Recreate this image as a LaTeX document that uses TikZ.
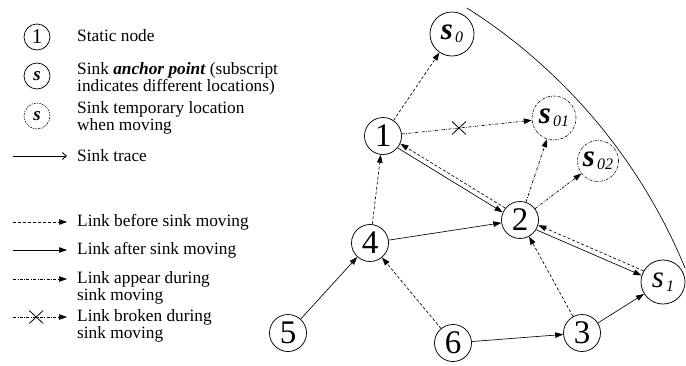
\documentclass[tikz,border=0pt]{standalone}
\usepackage{fontspec}
\setmainfont{Liberation Serif}
\usetikzlibrary{arrows.meta,shapes.misc,calc}
\newcommand\sinkl[3]{{\fontsize{31}{31}\selectfont\itshape #1#2}\hspace{2pt}\raisebox{-3.5pt}{\fontsize{16}{16}\selectfont\itshape #3}}
\begin{document}
\begin{tikzpicture}[x=1pt,y=-1pt,
  snode/.style={circle, draw, line width=0.75pt, minimum size=37pt, inner sep=0pt, font=\fontsize{33}{33}\selectfont},
  sinkc/.style={circle, draw, line width=0.75pt, minimum size=44pt, inner sep=0pt},
  tempsink/.style={sinkc, line width=0.6pt, dash pattern=on 2.5pt off 1.2pt on 0.6pt off 1.2pt},
  arrtip/.style={line width=0.65pt, -{Triangle[length=8pt,width=5.5pt]}},
  lkbefore/.style={arrtip, dash pattern=on 3pt off 2pt},
  lkafter/.style={arrtip},
  lkappear/.style={arrtip, dash pattern=on 3pt off 1.5pt on 0.7pt off 1.5pt},
  lbl/.style={anchor=base west, inner sep=0pt, font=\fontsize{17.3}{17.5}\selectfont},
  xmark/.style={cross out, draw, solid, minimum width=13pt, minimum height=12pt, inner sep=0pt, line width=0.8pt}
]
\useasboundingbox (0,0) rectangle (686,365);

% main diagram nodes
\node[snode] (n1) at (383,136) {1};
\node[snode] (n2) at (520,220) {2};
\node[snode] (n3) at (582,333) {3};
\node[snode] (n4) at (370,243) {4};
\node[snode] (n5) at (288,333) {5};
\node[snode] (n6) at (453,343) {6};
\node[sinkc] (s0) at (452,34) {\sinkl{\bfseries}{s}{0}};
\node[tempsink] (s01) at (554,118) {\sinkl{\bfseries}{s}{01}};
\node[tempsink, minimum size=41pt] (s02) at (598,161) {\sinkl{\bfseries}{s}{02}};
\node[sinkc] (s1) at (663,282) {\sinkl{}{s}{1}};

% sink trace arc
\draw[line width=0.65pt] (466.8,7.9) arc[start angle=-57.6, end angle=-22.4, radius=561.5];

% connectors
\draw[lkbefore] (n1) -- (s0);
\draw[lkappear] (n1) -- node[xmark, pos=0.44] (x1) {} (s01);
\draw[lkappear] (n2) -- (s01);
\draw[lkappear] (n2) -- (s02);
\draw[lkafter, transform canvas={xshift=-1.3pt,yshift=-2.1pt}] (n1) -- (n2);
\draw[lkbefore, transform canvas={xshift=1.3pt,yshift=2.1pt}] (n2) -- (n1);
\draw[lkbefore] (n4) -- (n1);
\draw[lkafter] (n4) -- (n2);
\draw[lkafter] (n5) -- (n4);
\draw[lkbefore] (n6) -- (n4);
\draw[lkafter] (n6) -- (n3);
\draw[lkbefore] (n3) -- (n2);
\draw[lkafter] (n3) -- (s1);
\draw[lkafter, transform canvas={xshift=-1pt,yshift=-2.3pt}] (n2) -- (s1);
\draw[lkbefore, transform canvas={xshift=1pt,yshift=2.3pt}] (s1) -- (n2);

% legend symbols
\node[snode, minimum size=26pt, font=\fontsize{21}{21}\selectfont] (L1) at (37,37) {1};
\node[sinkc, minimum size=26pt] (L2) at (37,76) {\fontsize{19}{19}\selectfont\bfseries\itshape s};
\node[sinkc, line width=0.6pt, minimum size=26pt, dash pattern=on 1.5pt off 1.2pt] (L3) at (37,116) {\fontsize{19}{19}\selectfont\bfseries\itshape s};

\coordinate (a1) at (13,156); \coordinate (b1) at (67,156);
\coordinate (a2) at (13,222); \coordinate (b2) at (67,222);
\coordinate (a3) at (13,250); \coordinate (b3) at (67,250);
\coordinate (a4) at (13,279); \coordinate (b4) at (67,279);
\coordinate (a5) at (13,317); \coordinate (b5) at (67,317);
\draw[line width=0.65pt, -{Straight Barb[length=4pt,width=7pt,line width=0.9pt]}] (a1) -- (b1);
\draw[lkbefore] (a2) -- (b2);
\draw[lkafter] (a3) -- (b3);
\draw[lkappear] (a4) -- (b4);
\draw[lkappear] (a5) -- node[xmark, pos=0.43] (x2) {} (b5);

% legend texts
\node[lbl] (t1) at (77,41) {Static node};
\node[lbl] (t2) at (77,74) {\begin{tabular}[t]{@{}l@{}}Sink \textbf{\textit{anchor point}} (subscript\\ indicates different locations)\end{tabular}};
\node[lbl] (t3) at (77,113) {\begin{tabular}[t]{@{}l@{}}Sink temporary location\\ when moving\end{tabular}};
\node[lbl] (t4) at (77,161) {Sink trace};
\node[lbl] (t5) at (77,226) {Link before sink moving};
\node[lbl] (t6) at (77,254) {Link after sink moving};
\node[lbl] (t7) at (77,283) {\begin{tabular}[t]{@{}l@{}}Link appear during\\ sink moving\end{tabular}};
\node[lbl] (t8) at (77,321) {\begin{tabular}[t]{@{}l@{}}Link broken during\\ sink moving\end{tabular}};
\end{tikzpicture}
\end{document}
